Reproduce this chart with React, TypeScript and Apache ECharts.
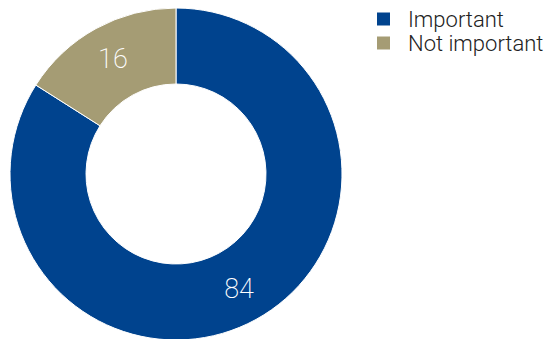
import React, { useEffect, useRef } from "react";
import * as echarts from "echarts";

const categories = ["Important", "Not important"];
const values = [84, 16];
const colors = ["#00438e", "#a59c74"];

export default function App() {
  const ref = useRef<HTMLDivElement>(null);
  useEffect(() => {
    if (!ref.current) return;
    const chart = echarts.init(ref.current, undefined, { renderer: "svg" });
    chart.setOption({
      animation: false,
      color: colors,
      legend: {
        orient: "vertical",
        left: 370,
        top: 3,
        icon: "rect",
        itemWidth: 15,
        itemHeight: 15,
        itemGap: 2,
        data: categories,
        textStyle: {
          fontFamily: "Roboto",
          fontWeight: 300,
          fontSize: 22,
          color: "#222",
          padding: [0, 0, 0, 12],
        },
      },
      series: [
        {
          type: "pie",
          center: [176, 174],
          radius: [90, 166],
          startAngle: 90,
          clockwise: true,
          itemStyle: { borderColor: "#fff", borderWidth: 1 },
          label: {
            show: true,
            position: "inside",
            formatter: "{c}",
            color: "#fff",
            fontFamily: "Roboto",
            fontWeight: 200,
            fontSize: 27,
          },
          labelLine: { show: false },
          emphasis: { disabled: true },
          data: categories.map((name, i) => ({ name, value: values[i] })),
        },
      ],
    });
    return () => chart.dispose();
  }, []);
  return (
    <div
      ref={ref}
      style={{ position: "absolute", left: 0, top: 0, width: 548, height: 339 }}
    />
  );
}
